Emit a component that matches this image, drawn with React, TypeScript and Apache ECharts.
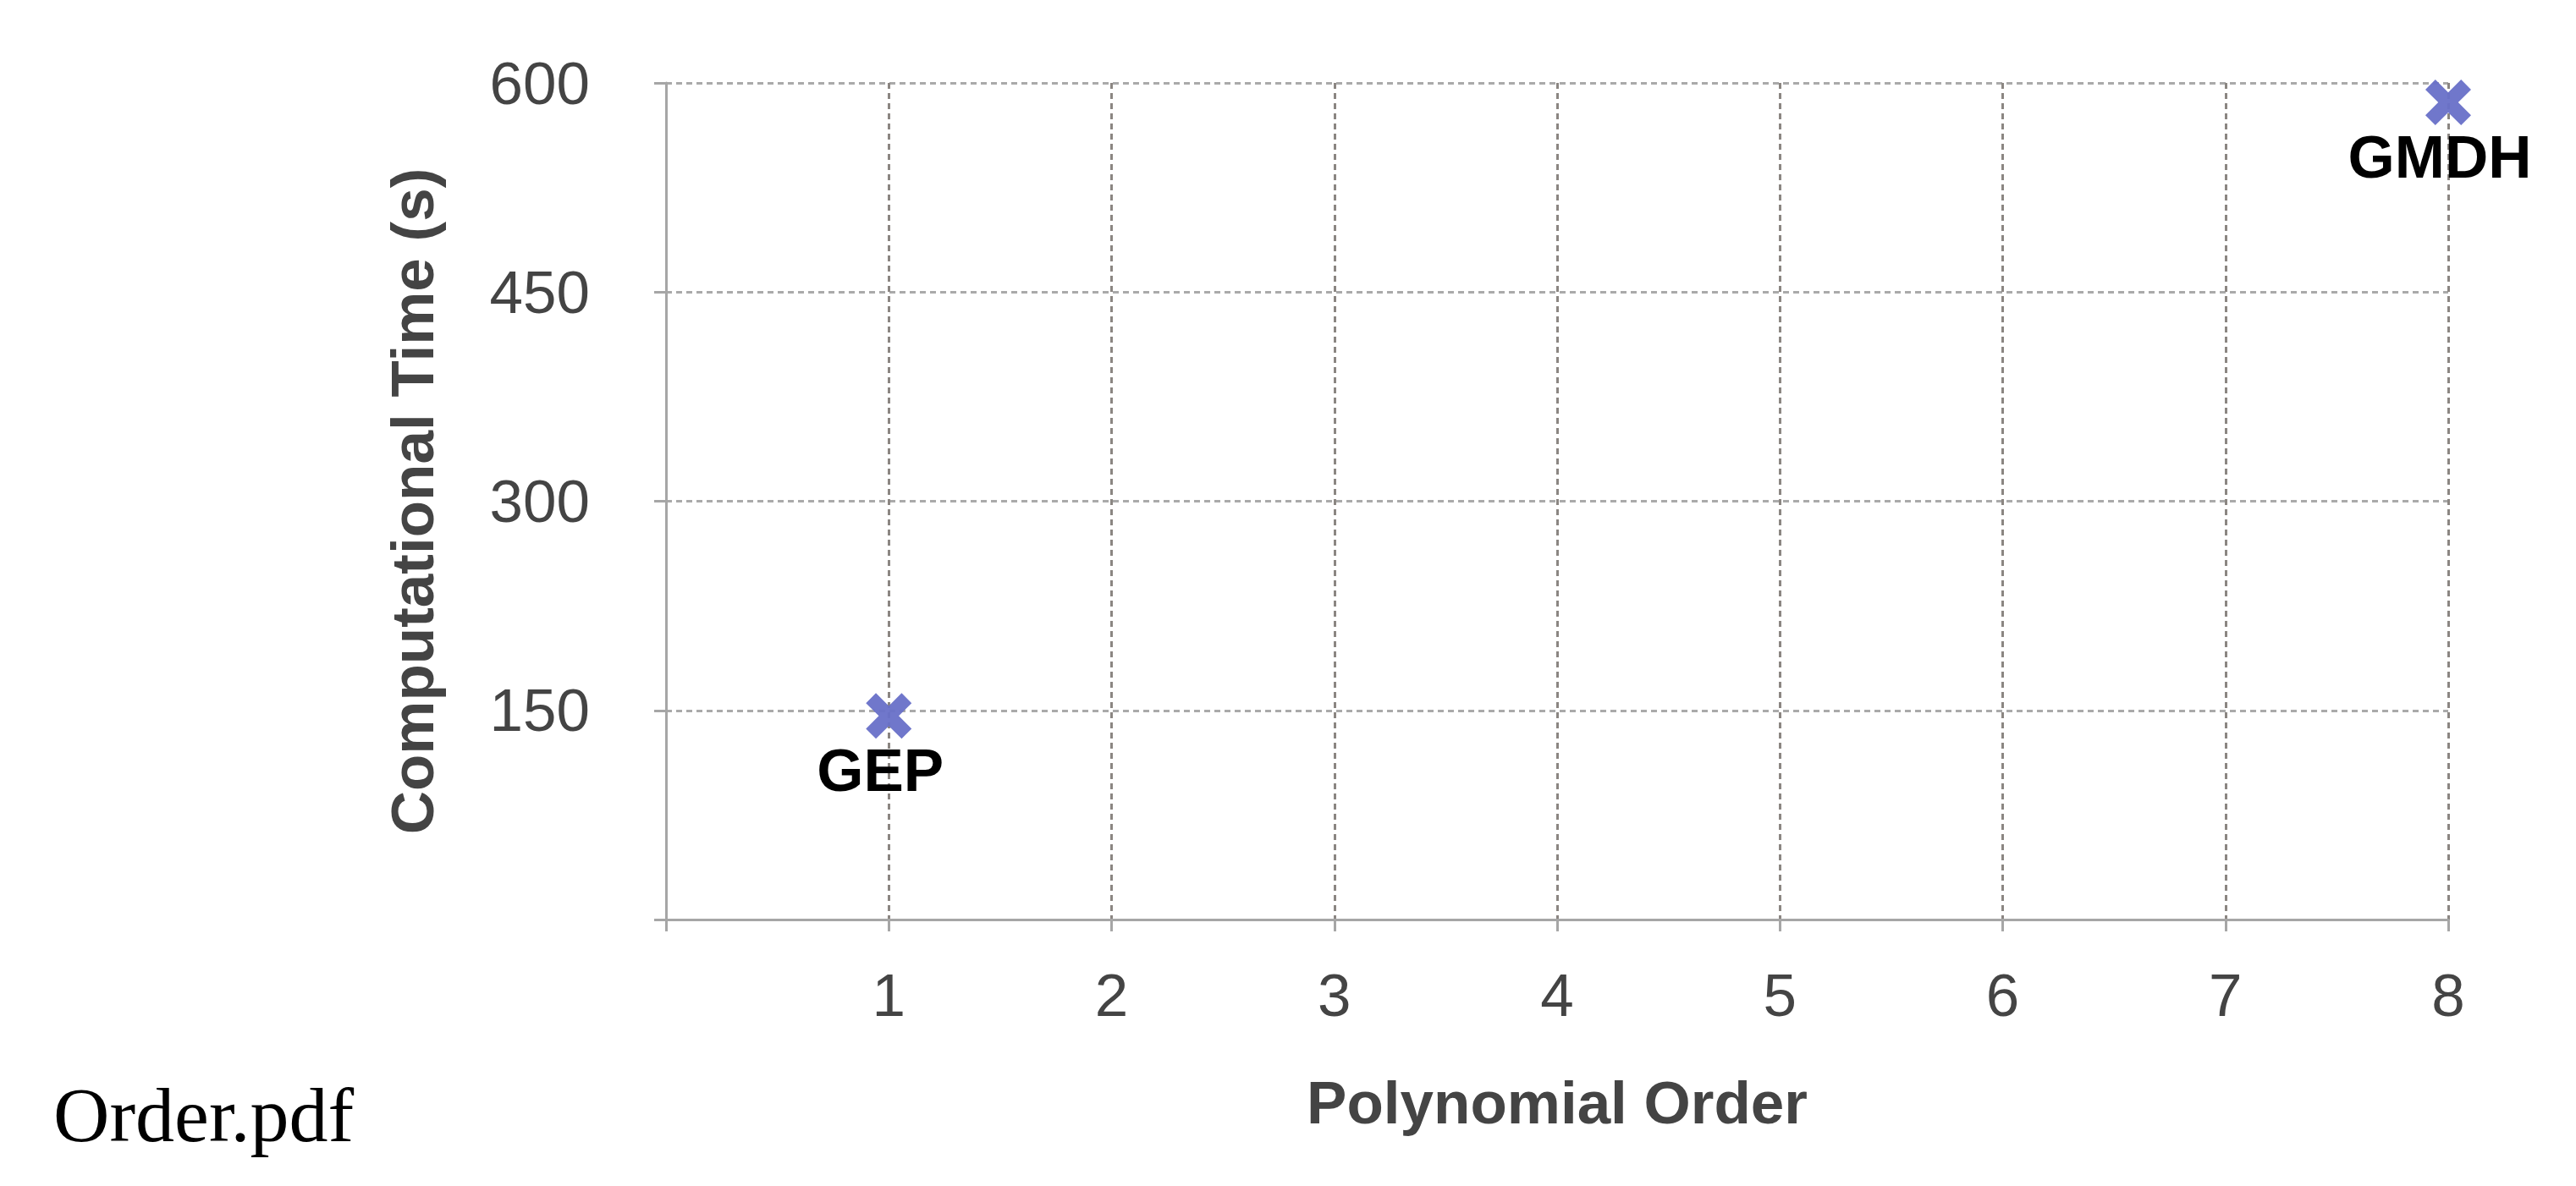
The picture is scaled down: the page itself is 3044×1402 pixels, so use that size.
import React, { useEffect, useRef } from "react";
import * as echarts from "echarts";

const xTicks = [0, 1, 2, 3, 4, 5, 6, 7, 8];
const yTicks = [0, 150, 300, 450, 600];
const methodNames = ["GEP", "GMDH"];
const polynomialOrder = [1, 8];
const computationalTime = [146, 586];

const FONT = "'Liberation Sans', Arial, Helvetica, sans-serif";
const XPATH =
  "path://M0,11.8 L11.8,0 L27,15.2 L42.2,0 L54,11.8 L38.8,27 L54,42.2 L42.2,54 L27,38.8 L11.8,54 L0,42.2 L15.2,27 Z";

export default function App() {
  const ref = useRef<HTMLDivElement>(null);
  useEffect(() => {
    if (!ref.current) return;
    const chart = echarts.init(ref.current, null, { renderer: "svg" });
    const data = methodNames.map((n, i) => ({
      name: n,
      value: [polynomialOrder[i], computationalTime[i]],
    }));
    chart.setOption({
      animation: false,
      backgroundColor: "#ffffff",
      grid: { left: 787, right: 151, top: 98, bottom: 315, containLabel: false },
      xAxis: {
        type: "value",
        min: xTicks[0],
        max: xTicks[xTicks.length - 1],
        interval: 1,
        name: "Polynomial Order",
        nameLocation: "middle",
        nameGap: 181,
        nameTextStyle: { fontFamily: FONT, fontSize: 71, fontWeight: "bold", color: "#444444" },
        axisLine: { show: true, onZero: false, lineStyle: { color: "#a6a6a6", width: 3 } },
        axisTick: { show: true, length: 14, lineStyle: { color: "#a6a6a6", width: 3 } },
        axisLabel: {
          margin: 54,
          fontFamily: FONT,
          fontSize: 71,
          color: "#444444",
          formatter: (v: number) => (v === 0 ? "" : String(v)),
        },
        splitLine: {
          show: true,
          showMinLine: false,
          lineStyle: { color: "#8b8682", width: 3, type: [7, 5] },
        },
      },
      yAxis: {
        type: "value",
        min: yTicks[0],
        max: yTicks[yTicks.length - 1],
        interval: 150,
        name: "Computational Time (s)",
        nameLocation: "middle",
        nameGap: 264,
        nameTextStyle: { fontFamily: FONT, fontSize: 71, fontWeight: "bold", color: "#444444" },
        axisLine: { show: true, onZero: false, lineStyle: { color: "#a6a6a6", width: 3 } },
        axisTick: { show: true, length: 14, lineStyle: { color: "#a6a6a6", width: 3 } },
        axisLabel: {
          margin: 90,
          fontFamily: FONT,
          fontSize: 71,
          color: "#444444",
          formatter: (v: number) => (v === 0 ? "" : String(v)),
        },
        splitLine: {
          show: true,
          showMinLine: false,
          lineStyle: { color: "#aaaaaa", width: 3, type: [7, 5] },
        },
      },
      series: [
        {
          type: "scatter",
          data,
          symbol: XPATH,
          symbolSize: 54,
          itemStyle: { color: "rgba(104,112,200,0.95)", opacity: 1 },
          label: {
            show: true,
            position: "bottom",
            distance: 2,
            offset: [-10, 0],
            formatter: (p: any) => p.name,
            fontFamily: FONT,
            fontSize: 71,
            fontWeight: "bold",
            color: "#000000",
            opacity: 1,
          },
          z: 5,
        },
      ],
      graphic: [
        {
          type: "text",
          left: 63,
          top: 1318 - 46,
          style: {
            text: "Order.pdf",
            font: "92px 'Liberation Serif', 'Times New Roman', serif",
            fill: "#000000",
          },
        },
      ],
    });
    return () => chart.dispose();
  }, []);
  return (
    <div
      ref={ref}
      style={{ position: "fixed", left: 0, top: 0, width: 3044, height: 1402, background: "#fff" }}
    />
  );
}
